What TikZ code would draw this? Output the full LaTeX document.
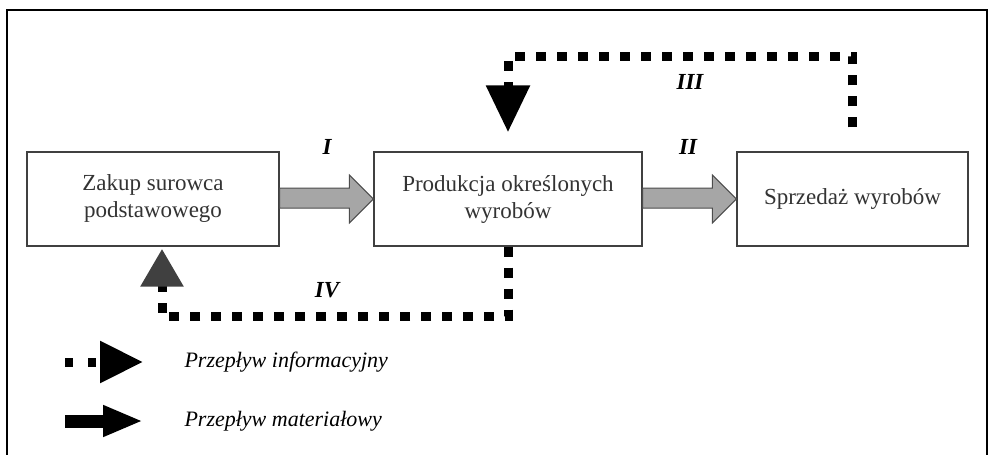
\documentclass[tikz,border=0pt]{standalone}
\usepackage{fontspec}
\setmainfont{Liberation Serif}
\usetikzlibrary{arrows.meta,calc}
\begin{document}
\begin{tikzpicture}[x=1pt,y=-1pt,
 box/.style={draw=black!75, line width=1.4pt, fill=white, minimum height=94pt, align=center, font=\fontsize{23}{27}\selectfont, text=black!80, inner sep=0pt},
 blk/.style={draw=black!70, line width=1pt, fill=black!35},
 info/.style={line width=9pt, dash pattern=on 10pt off 11pt},
 num/.style={font=\fontsize{23}{27}\selectfont\bfseries\itshape},
 leg/.style={anchor=west, font=\fontsize{22}{26}\selectfont\itshape}]
\useasboundingbox (0,0) rectangle (989,455);
\draw[line width=2pt] (7,455) -- (7,10) -- (987,10) -- (987,455);

\node[box, minimum width=252pt] (z) at (153,199) {Zakup surowca\\podstawowego};
\node[box, minimum width=268pt] (p) at (508,199) {Produkcja określonych\\wyrobów};
\node[box, minimum width=231pt] (s) at (852.5,199) {Sprzedaż wyrobów};

% material flows
\path[blk] ($(z.east)+(0,-11)$) -- ($(p.west)+(-24,-11)$) -- ($(p.west)+(-24,-24)$) -- (p.west)
  -- ($(p.west)+(-24,24)$) -- ($(p.west)+(-24,9)$) -- ($(z.east)+(0,9)$) -- cycle;
\path[blk] ($(p.east)+(0,-11)$) -- ($(s.west)+(-24,-11)$) -- ($(s.west)+(-24,-24)$) -- (s.west)
  -- ($(s.west)+(-24,24)$) -- ($(s.west)+(-24,9)$) -- ($(p.east)+(0,9)$) -- cycle;

% information flows
\draw[info, -{Triangle[length=47pt,width=42pt]}] ($(s.north)+(0,-24)$) -- ++(0,-71) -| ($(p.north)+(0,-19)$);
\draw[info, -{Triangle[length=38pt,width=41pt,color=black!75]}] (p.south) -- ++(0,70) -| ($(z.south)+(9,2)$);

% labels
\node[num] (n1) at (327,147) {I};
\node[num] (n2) at (688,147) {II};
\node[num] (n3) at (690,82) {III};
\node[num] (n4) at (327,290) {IV};

% legend
\coordinate (l1a) at (65,362); \coordinate (l1b) at (143,362);
\coordinate (l2a) at (65,421); \coordinate (l2b) at (143,421);
\draw[line width=9pt, dash pattern=on 8pt off 15pt, -{Triangle[length=43pt,width=40pt]}] (l1a) -- (l1b);
\draw[line width=13pt, -{Triangle[length=40pt,width=29pt]}] (l2a) -- (l2b);
\node[leg] (t1) at (181,362) {Przepływ informacyjny};
\node[leg] (t2) at (181,421) {Przepływ materiałowy};
\end{tikzpicture}
\end{document}
